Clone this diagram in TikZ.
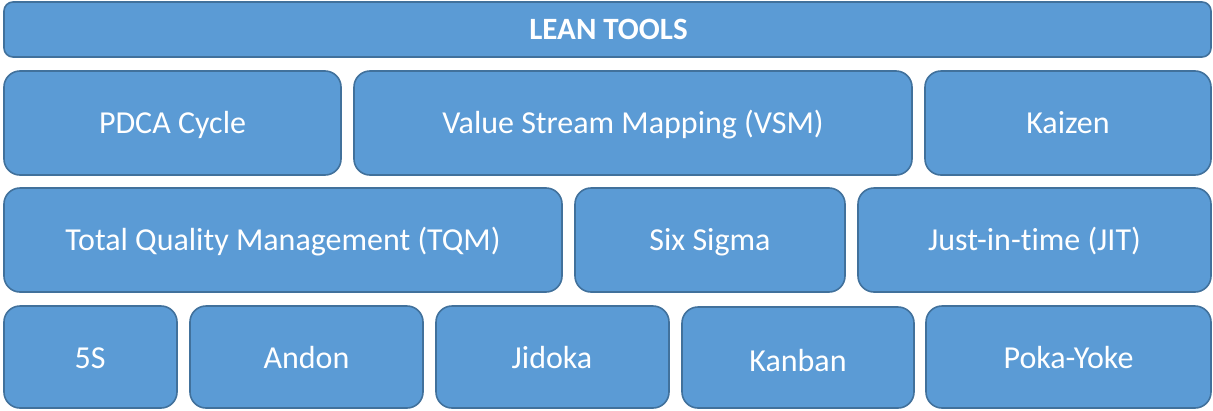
\documentclass[tikz,border=0pt]{standalone}
\usepackage{fontspec}
\setmainfont{Carlito}[Ligatures=NoCommon]
\definecolor{boxfill}{HTML}{5B9BD5}
\definecolor{boxline}{HTML}{41719C}
\begin{document}
\begin{tikzpicture}[x=1pt,y=-1pt,
  tile/.style={draw=boxline, fill=boxfill, line width=1.6pt, rounded corners=16pt},
  lbl/.style={text=white, font=\fontsize{32}{36}\selectfont, inner sep=0pt, anchor=base},
  ttl/.style={text=white, font=\fontsize{31}{36}\selectfont\bfseries, inner sep=0pt, anchor=base}]
\useasboundingbox (0,0) rectangle (1213,410);
% top bar
\draw[tile, rounded corners=9pt] (4,2) rectangle (1211,57);
\node[ttl] (title) at (608.5,39.5) {LEAN TOOLS};
% row 2
\draw[tile] (4,71) rectangle (341,175);
\node[lbl] (pdca) at (172.5,133) {PDCA Cycle};
\draw[tile] (354,71) rectangle (912,175);
\node[lbl] (vsm) at (633,133) {Value Stream Mapping (VSM)};
\draw[tile] (925,71) rectangle (1211,175);
\node[lbl] (kaizen) at (1068,133) {Kaizen};
% row 3
\draw[tile] (4,188) rectangle (562,292);
\node[lbl] (tqm) at (283,250) {Total Quality Management (TQM)};
\draw[tile] (575,188) rectangle (845,292);
\node[lbl] (six) at (710,250) {Six Sigma};
\draw[tile] (858,188) rectangle (1211,292);
\node[lbl] (jit) at (1034.5,250) {Just-in-time (JIT)};
% row 4
\draw[tile] (4,306) rectangle (177,408);
\node[lbl] (fives) at (90,368) {5S};
\draw[tile] (190,306) rectangle (423,408);
\node[lbl] (andon) at (306.5,368) {Andon};
\draw[tile] (436,306) rectangle (669,408);
\node[lbl] (jidoka) at (552,368) {Jidoka};
\draw[tile] (682,307) rectangle (914,408);
\node[lbl] (kanban) at (798,371) {Kanban};
\draw[tile] (926,306) rectangle (1211,408);
\node[lbl] (poka) at (1068.5,368) {Poka-Yoke};
\end{tikzpicture}
\end{document}
